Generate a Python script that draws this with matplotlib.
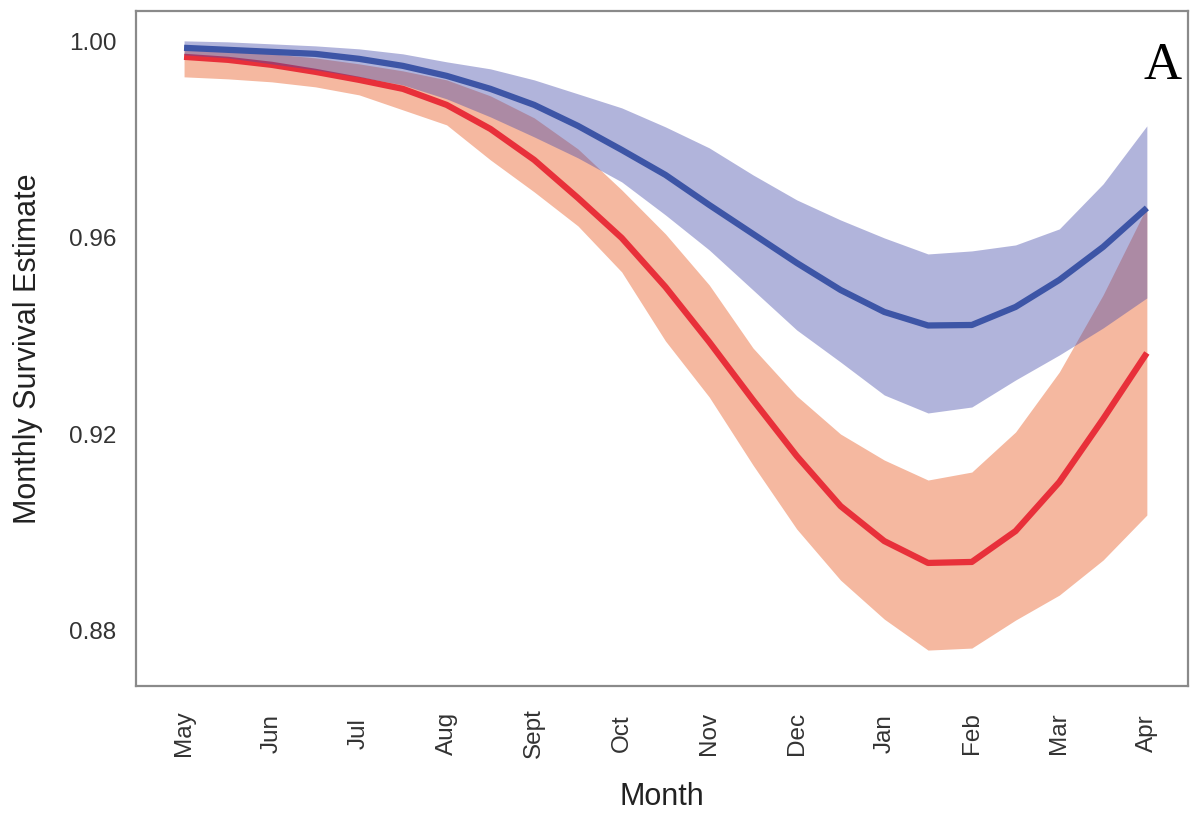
import numpy as np
import matplotlib
matplotlib.use("Agg")
import matplotlib.pyplot as plt

months = ["May", "Jun", "Jul", "Aug", "Sept", "Oct", "Nov", "Dec", "Jan", "Feb", "Mar", "Apr"]
# half-month sample positions (0 = May ... 11 = Apr)
x = [i * 0.5 for i in range(23)]

blue_mean = [0.99878, 0.99837, 0.99796, 0.99755, 0.99653, 0.99510, 0.99306, 0.99041, 0.98714,
             0.98286, 0.97796, 0.97286, 0.96673, 0.96082, 0.95490, 0.94939, 0.94490, 0.94214,
             0.94224, 0.94592, 0.95143, 0.95816, 0.96612]
blue_upper = [1.00020, 1.00000, 0.99959, 0.99918, 0.99857, 0.99755, 0.99592, 0.99449, 0.99224,
              0.98939, 0.98653, 0.98265, 0.97837, 0.97286, 0.96776, 0.96367, 0.96000, 0.95673,
              0.95735, 0.95857, 0.96184, 0.97102, 0.98286]
blue_lower = [0.99735, 0.99673, 0.99551, 0.99429, 0.99286, 0.99122, 0.98837, 0.98469, 0.98061,
              0.97633, 0.97143, 0.96469, 0.95755, 0.94939, 0.94122, 0.93469, 0.92796, 0.92429,
              0.92551, 0.93102, 0.93612, 0.94163, 0.94776]

red_mean = [0.99694, 0.99633, 0.99531, 0.99388, 0.99224, 0.99041, 0.98714, 0.98224, 0.97592,
            0.96816, 0.96000, 0.95000, 0.93878, 0.92694, 0.91551, 0.90531, 0.89816, 0.89370,
            0.89390, 0.90020, 0.91020, 0.92306, 0.93653]
red_upper = [0.99837, 0.99816, 0.99755, 0.99673, 0.99551, 0.99408, 0.99224, 0.98898, 0.98449,
             0.97816, 0.96980, 0.96082, 0.95041, 0.93755, 0.92776, 0.92000, 0.91469, 0.91061,
             0.91224, 0.92041, 0.93265, 0.94837, 0.96633]
red_lower = [0.99286, 0.99245, 0.99184, 0.99082, 0.98918, 0.98612, 0.98306, 0.97592, 0.96939,
             0.96245, 0.95306, 0.93898, 0.92755, 0.91367, 0.90061, 0.89020, 0.88224, 0.87592,
             0.87633, 0.88204, 0.88714, 0.89429, 0.90347]

yticks = [0.88, 0.92, 0.96, 1.00]
ytick_labels = ["0.88", "0.92", "0.96", "1.00"]

plt.rcParams["font.family"] = ["Liberation Sans", "DejaVu Sans"]

fig = plt.figure(figsize=(11.93, 8.18), dpi=100)
ax = fig.add_axes([0.114, 0.1614, 0.8818, 0.8252])

ax.fill_between(x, red_lower, red_upper, color="#f5b8a0", linewidth=0, zorder=1)
ax.plot(x, red_mean, color="#e8303a", linewidth=4.5, solid_capstyle="butt",
        solid_joinstyle="round", zorder=2)
ax.fill_between(x, blue_lower, blue_upper, color=(71/255, 76/255, 171/255), alpha=0.42,
                linewidth=0, zorder=3)
ax.plot(x, blue_mean, color="#3d55a6", linewidth=4.5, solid_capstyle="butt",
        solid_joinstyle="round", zorder=4)

ax.set_xlim(-0.549, 11.47)
ax.set_ylim(0.8686, 1.0063)

ax.set_xticks(range(len(months)))
ax.set_xticklabels(months, rotation=90, va="center", fontsize=17.5, color="#333333")
ax.set_yticks(yticks)
ax.set_yticklabels(ytick_labels, fontsize=17.5, color="#333333")
ax.tick_params(axis="x", length=0, pad=34)
ax.tick_params(axis="y", length=0, pad=14)

for s in ax.spines.values():
    s.set_color("#8a8a8a")
    s.set_linewidth(1.6)

ax.set_xlabel("Month", fontsize=22, color="#222222")
ax.xaxis.set_label_coords(0.5, -0.164)
ax.xaxis.label.set_va("center")
ax.set_ylabel("Monthly Survival Estimate", fontsize=22, color="#222222")
ax.yaxis.set_label_coords(-0.103, 0.5)
ax.yaxis.label.set_va("center")

ax.text(0.976, 0.918, "A", transform=ax.transAxes, ha="center", va="center",
        fontsize=38, family=["Liberation Serif", "DejaVu Serif"], color="black")

fig.savefig("out.png", dpi=100, facecolor="white")
